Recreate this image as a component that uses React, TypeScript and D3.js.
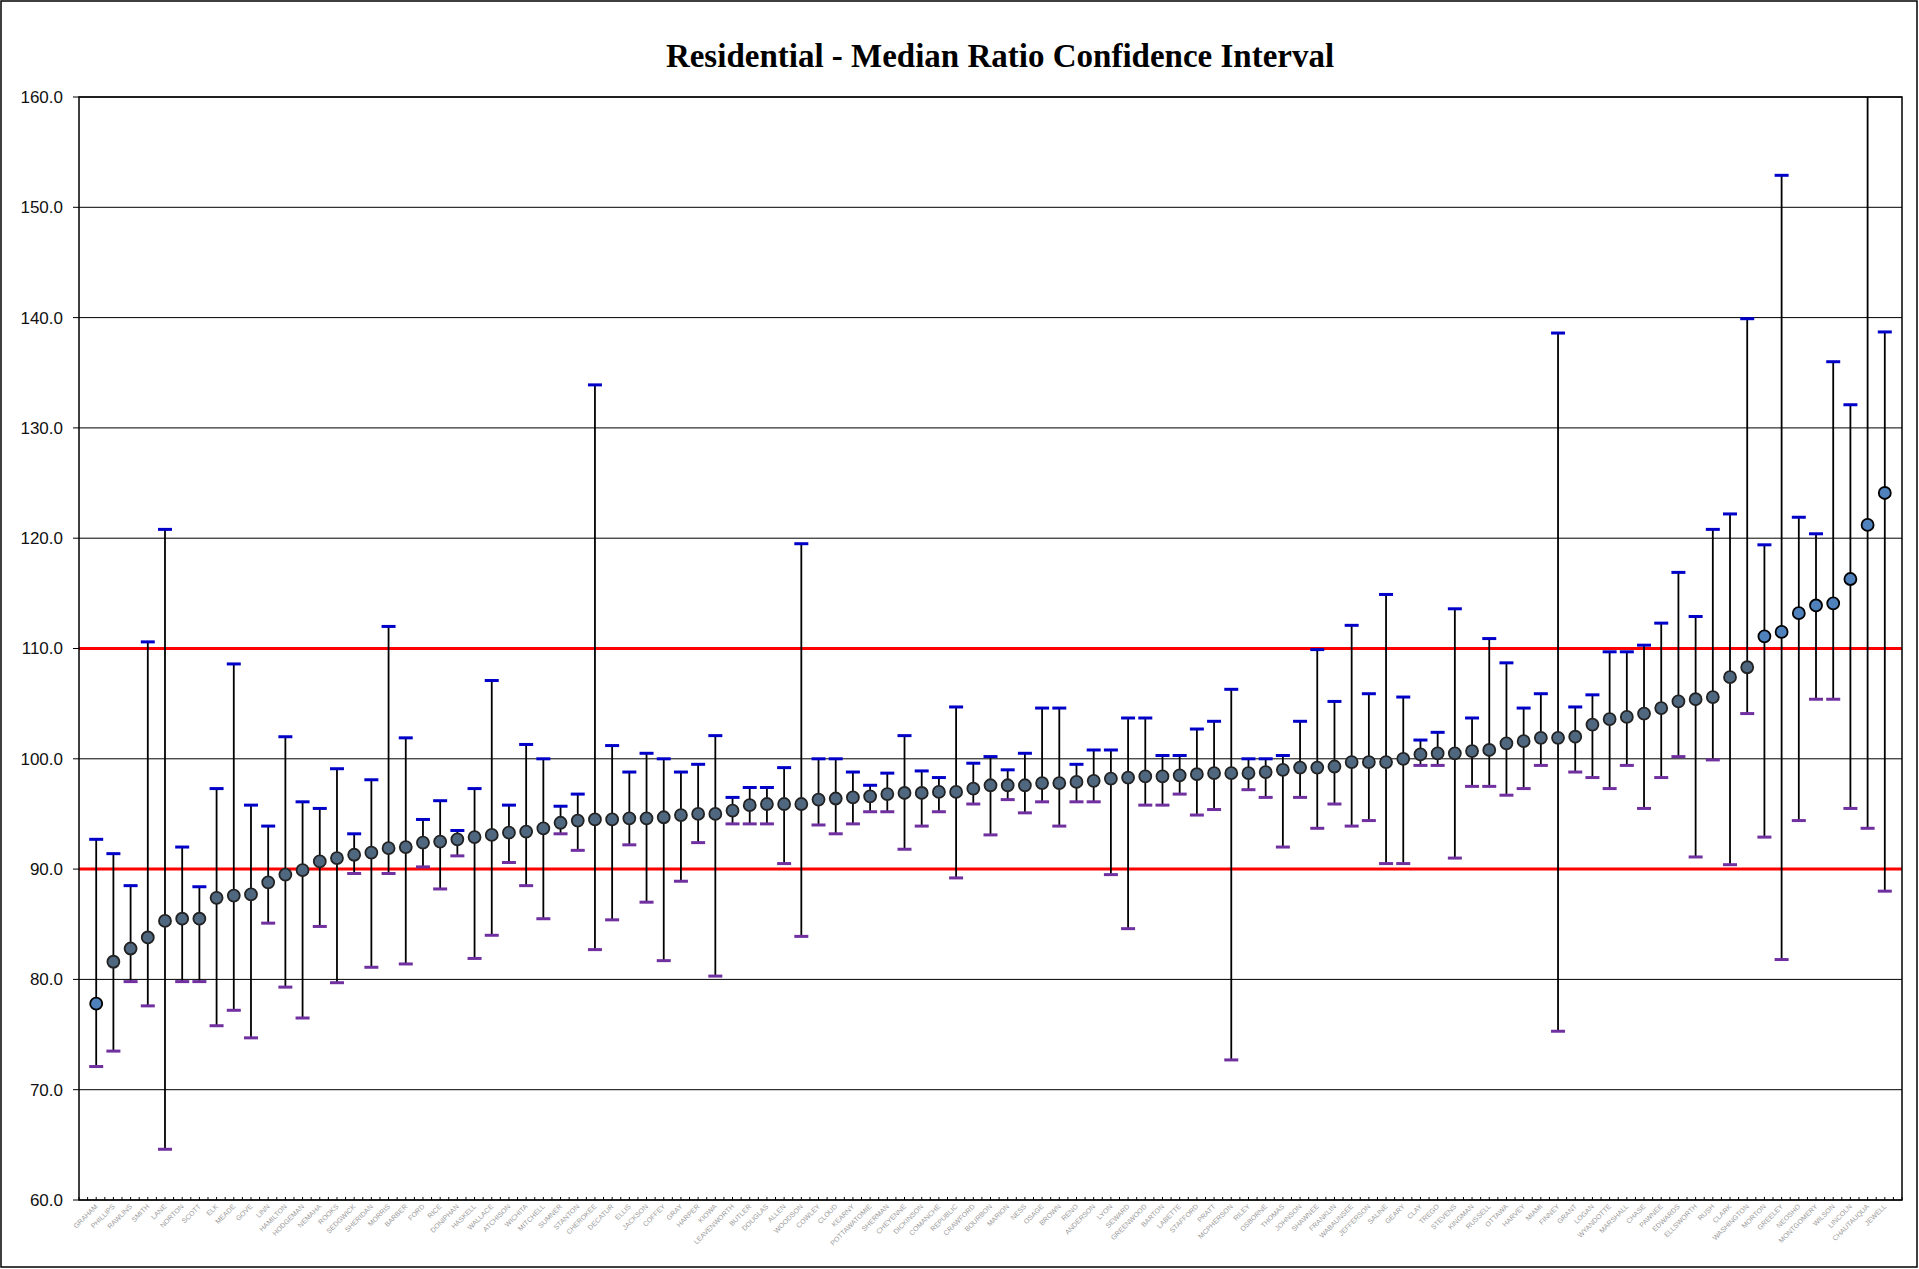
import * as d3 from "d3";
import React from "react";

// Kansas counties, ordered by median ratio
const counties = [
  "GRAHAM", "PHILLIPS", "RAWLINS", "SMITH", "LANE", "NORTON", "SCOTT", "ELK", "MEADE", "GOVE",
  "LINN", "HAMILTON", "HODGEMAN", "NEMAHA", "ROOKS", "SEDGWICK", "SHERIDAN", "MORRIS", "BARBER", "FORD",
  "RICE", "DONIPHAN", "HASKELL", "WALLACE", "ATCHISON", "WICHITA", "MITCHELL", "SUMNER", "STANTON", "CHEROKEE",
  "DECATUR", "ELLIS", "JACKSON", "COFFEY", "GRAY", "HARPER", "KIOWA", "LEAVENWORTH", "BUTLER", "DOUGLAS",
  "ALLEN", "WOODSON", "COWLEY", "CLOUD", "KEARNY", "POTTAWATOMIE", "SHERMAN", "CHEYENNE", "DICKINSON", "COMANCHE",
  "REPUBLIC", "CRAWFORD", "BOURBON", "MARION", "NESS", "OSAGE", "BROWN", "RENO", "ANDERSON", "LYON",
  "SEWARD", "GREENWOOD", "BARTON", "LABETTE", "STAFFORD", "PRATT", "MCPHERSON", "RILEY", "OSBORNE", "THOMAS",
  "JOHNSON", "SHAWNEE", "FRANKLIN", "WABAUNSEE", "JEFFERSON", "SALINE", "GEARY", "CLAY", "TREGO", "STEVENS",
  "KINGMAN", "RUSSELL", "OTTAWA", "HARVEY", "MIAMI", "FINNEY", "GRANT", "LOGAN", "WYANDOTTE", "MARSHALL",
  "CHASE", "PAWNEE", "EDWARDS", "ELLSWORTH", "RUSH", "CLARK", "WASHINGTON", "MORTON", "GREELEY", "NEOSHO",
  "MONTGOMERY", "WILSON", "LINCOLN", "CHAUTAUQUA", "JEWELL",
];

const medians = [
  77.8, 81.6, 82.8, 83.8, 85.3, 85.5, 85.5, 87.4, 87.6, 87.7,
  88.8, 89.5, 89.9, 90.7, 91.0, 91.3, 91.5, 91.9, 92.0, 92.4,
  92.5, 92.7, 92.9, 93.1, 93.3, 93.4, 93.7, 94.2, 94.4, 94.5,
  94.5, 94.6, 94.6, 94.7, 94.9, 95.0, 95.0, 95.3, 95.8, 95.9,
  95.9, 95.9, 96.3, 96.4, 96.5, 96.6, 96.8, 96.9, 96.9, 97.0,
  97.0, 97.3, 97.6, 97.6, 97.6, 97.8, 97.8, 97.9, 98.0, 98.2,
  98.3, 98.4, 98.4, 98.5, 98.6, 98.7, 98.7, 98.7, 98.8, 99.0,
  99.2, 99.2, 99.3, 99.7, 99.7, 99.7, 100.0, 100.4, 100.5, 100.5,
  100.7, 100.8, 101.4, 101.6, 101.9, 101.9, 102.0, 103.1, 103.6, 103.8,
  104.1, 104.6, 105.2, 105.4, 105.6, 107.4, 108.3, 111.1, 111.5, 113.2,
  113.9, 114.1, 116.3, 121.2, 124.1,
];

const upperCI = [
  92.7, 91.4, 88.5, 110.6, 120.8, 92.0, 88.4, 97.3, 108.6, 95.8,
  93.9, 102.0, 96.1, 95.5, 99.1, 93.2, 98.1, 112.0, 101.9, 94.5,
  96.2, 93.5, 97.3, 107.1, 95.8, 101.3, 100.0, 95.7, 96.8, 133.9,
  101.2, 98.8, 100.5, 100.0, 98.8, 99.5, 102.1, 96.5, 97.4, 97.4,
  99.2, 119.5, 100.0, 100.0, 98.8, 97.6, 98.7, 102.1, 98.9, 98.3,
  104.7, 99.6, 100.2, 99.0, 100.5, 104.6, 104.6, 99.5, 100.8, 100.8,
  103.7, 103.7, 100.3, 100.3, 102.7, 103.4, 106.3, 100.0, 100.0, 100.3,
  103.4, 109.9, 105.2, 112.1, 105.9, 114.9, 105.6, 101.7, 102.4, 113.6,
  103.7, 110.9, 108.7, 104.6, 105.9, 138.6, 104.7, 105.8, 109.7, 109.7,
  110.3, 112.3, 116.9, 112.9, 120.8, 122.2, 139.9, 119.4, 152.9, 121.9,
  120.4, 136.0, 132.1, 172.0, 138.7,
];

const lowerCI = [
  72.1, 73.5, 79.8, 77.6, 64.6, 79.8, 79.8, 75.8, 77.2, 74.7,
  85.1, 79.3, 76.5, 84.8, 79.7, 89.6, 81.1, 89.6, 81.4, 90.2,
  88.2, 91.2, 81.9, 84.0, 90.6, 88.5, 85.5, 93.2, 91.7, 82.7,
  85.4, 92.2, 87.0, 81.7, 88.9, 92.4, 80.3, 94.1, 94.1, 94.1,
  90.5, 83.9, 94.0, 93.2, 94.1, 95.2, 95.2, 91.8, 93.9, 95.2,
  89.2, 95.9, 93.1, 96.3, 95.1, 96.1, 93.9, 96.1, 96.1, 89.5,
  84.6, 95.8, 95.8, 96.8, 94.9, 95.4, 72.7, 97.2, 96.5, 92.0,
  96.5, 93.7, 95.9, 93.9, 94.4, 90.5, 90.5, 99.4, 99.4, 91.0,
  97.5, 97.5, 96.7, 97.3, 99.4, 75.3, 98.8, 98.3, 97.3, 99.4,
  95.5, 98.3, 100.2, 91.1, 99.9, 90.4, 104.1, 92.9, 81.8, 94.4,
  105.4, 105.4, 95.5, 93.7, 88.0,
];

const yTicks = [60, 70, 80, 90, 100, 110, 120, 130, 140, 150, 160];
const targetBand = [90, 110];

const W = 1919;
const H = 1269;
const plot = { left: 79, top: 97, right: 1902, bottom: 1200 };

export default function App() {
  const x = d3.scalePoint<string>().domain(counties).range([plot.left, plot.right]).padding(1);
  const y = d3.scaleLinear().domain([60, 160]).range([plot.bottom, plot.top]);
  const step = x.step();
  const minorTicks = d3.range(0, Math.round((plot.right - plot.left) / (step / 2)) + 1);
  const capW = 14;

  return (
    <svg
      width={W}
      height={H}
      style={{ position: "absolute", left: 0, top: 0, background: "#fff" }}
      fontFamily="'Liberation Sans', Arial, sans-serif"
    >
      <defs>
        <clipPath id="plotClip">
          <rect x={plot.left} y={plot.top} width={plot.right - plot.left} height={plot.bottom - plot.top} />
        </clipPath>
        <filter id="soft" x="-50%" y="-50%" width="200%" height="200%">
          <feGaussianBlur stdDeviation="0.7" />
        </filter>
      </defs>
      <rect x={1} y={1} width={W - 3} height={H - 3} fill="#fff" stroke="#000" strokeWidth={1.5} />

      <text
        x={1000}
        y={67}
        textAnchor="middle"
        fontFamily="'Liberation Serif', 'Times New Roman', serif"
        fontWeight="bold"
        fontSize={33}
      >
        Residential - Median Ratio Confidence Interval
      </text>

      {/* gridlines */}
      {yTicks.map((t) => (
        <g key={t}>
          <line x1={plot.left} x2={plot.right} y1={y(t)} y2={y(t)} stroke="#000" strokeWidth={1} />
          <line x1={plot.left - 6} x2={plot.left} y1={y(t)} y2={y(t)} stroke="#000" strokeWidth={1} />
          <text x={plot.left - 16} y={y(t)} dy="0.35em" textAnchor="end" fontSize={17} fill="#111">
            {t.toFixed(1)}
          </text>
        </g>
      ))}

      {/* target band */}
      {targetBand.map((t) => (
        <line key={t} x1={plot.left} x2={plot.right} y1={y(t)} y2={y(t)} stroke="#ff0000" strokeWidth={3} />
      ))}

      {/* plot frame */}
      <rect
        x={plot.left}
        y={plot.top}
        width={plot.right - plot.left}
        height={plot.bottom - plot.top}
        fill="none"
        stroke="#000"
        strokeWidth={1.5}
      />

      {/* x axis ticks */}
      {minorTicks.map((i) => (
        <line
          key={i}
          x1={plot.left + (i * step) / 2}
          x2={plot.left + (i * step) / 2}
          y1={plot.bottom - 3}
          y2={plot.bottom}
          stroke="#000"
          strokeWidth={1}
        />
      ))}

      {/* error bars */}
      <g clipPath="url(#plotClip)">
        {counties.map((c, i) => {
          const cx = x(c)!;
          return (
            <g key={c}>
              <line x1={cx} x2={cx} y1={y(lowerCI[i])} y2={y(upperCI[i])} stroke="#000" strokeWidth={1.8} />
              <line
                x1={cx - capW / 2}
                x2={cx + capW / 2}
                y1={y(upperCI[i])}
                y2={y(upperCI[i])}
                stroke="#0000c8"
                strokeWidth={3}
              />
              <line
                x1={cx - capW / 2}
                x2={cx + capW / 2}
                y1={y(lowerCI[i])}
                y2={y(lowerCI[i])}
                stroke="#7030a0"
                strokeWidth={3}
              />
            </g>
          );
        })}
      </g>

      {/* medians */}
      {counties.map((c, i) => {
        const m = medians[i];
        const out = m < 80 || m > targetBand[1];
        return out ? (
          <circle key={c} cx={x(c)!} cy={y(m)} r={6} fill="#4f81bd" stroke="#000" strokeWidth={1.8} />
        ) : (
          <circle
            key={c}
            cx={x(c)!}
            cy={y(m)}
            r={6}
            fill="#4f6880"
            stroke="#222"
            strokeWidth={1.8}
            filter="url(#soft)"
          />
        );
      })}

      {/* category labels */}
      {counties.map((c) => (
        <text
          key={c}
          transform={`translate(${x(c)! + 2},${plot.bottom + 7}) rotate(-45)`}
          textAnchor="end"
          fontSize={7}
          fill="#9a9a9a"
        >
          {c}
        </text>
      ))}
    </svg>
  );
}
